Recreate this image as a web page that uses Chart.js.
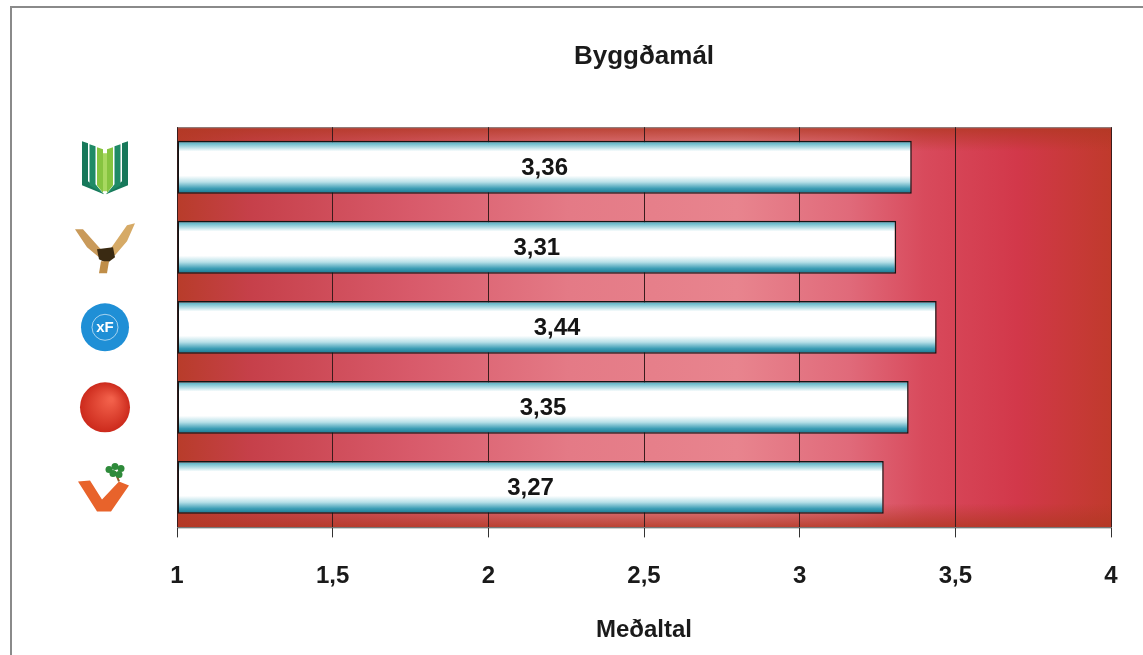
<!DOCTYPE html>
<html>
<head>
<meta charset="utf-8">
<script src="https://cdn.jsdelivr.net/npm/chart.js@4.4.1/dist/chart.umd.min.js"></script>
<style>
  html, body { margin: 0; padding: 0; background: #fff; }
  #wrap { width: 1143px; height: 655px; position: relative; }
</style>
</head>
<body>
<div id="wrap"><canvas id="graph"></canvas></div>
<script>
// flokkar (sýndir sem merki)
const categories = ['Framsóknarflokkurinn', 'Sjálfstæðisflokkurinn', 'Frjálslyndi flokkurinn', 'Samfylkingin', 'Vinstri græn']
const values = [3.36, 3.31, 3.44, 3.35, 3.27]
const tickLabels = ['1', '1,5', '2', '2,5', '3', '3,5', '4']

const FONT = 'Arial, "Liberation Sans", sans-serif'

// bakgrunnur teiknisvæðis
const plotBg = {
    id: 'plotBg',
    beforeDraw(chart) {
        const { ctx, chartArea: a } = chart
        ctx.save()
        const h = ctx.createLinearGradient(a.left, 0, a.right, 0)
        h.addColorStop(0, '#b83c2a')
        h.addColorStop(0.08, '#c6404a')
        h.addColorStop(0.25, '#d85a6a')
        h.addColorStop(0.42, '#e47a86')
        h.addColorStop(0.6, '#e8848e')
        h.addColorStop(0.72, '#e06a7a')
        h.addColorStop(0.8, '#d84a5c')
        h.addColorStop(0.9, '#d2384a')
        h.addColorStop(1, '#c03a2c')
        ctx.fillStyle = h
        ctx.fillRect(a.left, a.top, a.right - a.left, a.bottom - a.top)
        const v = ctx.createLinearGradient(0, a.top, 0, a.bottom)
        v.addColorStop(0, 'rgba(178,56,36,0.85)')
        v.addColorStop(0.06, 'rgba(178,56,36,0)')
        v.addColorStop(0.94, 'rgba(178,56,36,0)')
        v.addColorStop(1, 'rgba(178,56,36,0.85)')
        ctx.fillStyle = v
        ctx.fillRect(a.left, a.top, a.right - a.left, a.bottom - a.top)
        ctx.strokeStyle = '#888'
        ctx.lineWidth = 1
        ctx.strokeRect(a.left + 0.5, a.top + 0.5, a.right - a.left, a.bottom - a.top)
        ctx.restore()
    },
    afterDraw(chart) {
        // rammi utan um myndina
        const ctx = chart.ctx
        ctx.save()
        ctx.strokeStyle = '#8a8a8a'
        ctx.lineWidth = 2
        ctx.strokeRect(11, 7, 1200, 700)
        ctx.restore()
    }
}

// gildi inni í súlunum
const barLabels = {
    id: 'barLabels',
    afterDatasetsDraw(chart) {
        const ctx = chart.ctx
        const meta = chart.getDatasetMeta(0)
        ctx.save()
        ctx.font = 'bold 24px ' + FONT
        ctx.fillStyle = '#151515'
        ctx.textAlign = 'center'
        ctx.textBaseline = 'middle'
        meta.data.forEach(function(el, i) {
            const t = values[i].toFixed(2).replace('.', ',')
            ctx.fillText(t, (el.base + el.x) / 2, el.y + 1)
        })
        ctx.restore()
    }
}

function poly(ctx, color, pts) {
    ctx.beginPath()
    ctx.moveTo(pts[0][0], pts[0][1])
    for (let i = 1; i < pts.length; i++) ctx.lineTo(pts[i][0], pts[i][1])
    ctx.closePath()
    ctx.fillStyle = color
    ctx.fill()
}

function drawLogo(ctx, i, x, y) {
    ctx.save()
    ctx.translate(x, y)
    if (i === 0) {
        // grænt merki
        const cols = ['#17785a', '#1f8a66', '#86c440']
        for (const s of [-1, 1]) {
            for (let k = 0; k < 3; k++) {
                const xo = 23 - k * 7.5
                const top = -26 + k * 3
                poly(ctx, cols[k], [
                    [s * xo, top], [s * (xo - 6), top + 2],
                    [s * (xo - 6), 14 + k * 3], [s * 2, 26],
                    [s * 1, 27], [s * xo, 18]
                ])
            }
        }
        poly(ctx, '#a8d860', [[-2, -14], [2, -14], [2, 24], [-2, 24]])
    } else if (i === 1) {
        // örn
        poly(ctx, '#c99a5a', [[-30, -18], [-22, -18], [-6, 0], [0, 6], [-6, 10], [-18, 0]])
        poly(ctx, '#d6aa66', [[30, -24], [22, -22], [8, -2], [2, 6], [10, 8], [22, -6]])
        poly(ctx, '#3a2a12', [[-8, 2], [8, 0], [10, 10], [2, 16], [-6, 12]])
        poly(ctx, '#c08e48', [[-4, 14], [4, 14], [2, 26], [-6, 26]])
    } else if (i === 2) {
        // blár hringur
        ctx.beginPath()
        ctx.arc(0, 0, 24, 0, Math.PI * 2)
        ctx.fillStyle = '#1f8fd6'
        ctx.fill()
        ctx.beginPath()
        ctx.arc(0, 0, 13, 0, Math.PI * 2)
        ctx.strokeStyle = 'rgba(255,255,255,0.6)'
        ctx.lineWidth = 1
        ctx.stroke()
        ctx.fillStyle = '#fff'
        ctx.font = 'bold 15px ' + FONT
        ctx.textAlign = 'center'
        ctx.textBaseline = 'middle'
        ctx.fillText('xF', 0, 1)
    } else if (i === 3) {
        // rauður hringur
        const g = ctx.createRadialGradient(6, -8, 2, 0, 0, 25)
        g.addColorStop(0, '#f2604a')
        g.addColorStop(1, '#cc2a1c')
        ctx.beginPath()
        ctx.arc(0, 0, 25, 0, Math.PI * 2)
        ctx.fillStyle = g
        ctx.fill()
    } else {
        // appelsínugult V
        poly(ctx, '#e8632b', [[-27, -6], [-15, -7], [-3, 12], [14, -6], [24, -2], [6, 24], [-8, 24]])
        ctx.strokeStyle = '#8a5a2a'
        ctx.lineWidth = 2
        ctx.beginPath()
        ctx.moveTo(14, -6)
        ctx.lineTo(10, -16)
        ctx.stroke()
        ctx.fillStyle = '#2e8a3a'
        for (const p of [[4, -18], [10, -21], [16, -19], [8, -14], [14, -13]]) {
            ctx.beginPath()
            ctx.arc(p[0], p[1], 3.5, 0, Math.PI * 2)
            ctx.fill()
        }
    }
    ctx.restore()
}

const logos = {
    id: 'logos',
    afterDraw(chart) {
        const y = chart.scales.y
        categories.forEach(function(c, i) {
            drawLogo(chart.ctx, i, 105, y.getPixelForValue(i))
        })
    }
}

function barFill(c) {
    const chart = c.chart
    const a = chart.chartArea
    if (!a || c.type !== 'data') return '#ffffff'
    const yc = chart.scales.y.getPixelForValue(c.dataIndex)
    const half = (a.bottom - a.top) / categories.length * 0.66 / 2
    const g = chart.ctx.createLinearGradient(0, yc - half, 0, yc + half)
    g.addColorStop(0, '#2c8ea6')
    g.addColorStop(0.05, '#6cbccc')
    g.addColorStop(0.2, '#ffffff')
    g.addColorStop(0.66, '#ffffff')
    g.addColorStop(0.78, '#b8e0e8')
    g.addColorStop(0.9, '#3e9eb6')
    g.addColorStop(1, '#16728a')
    return g
}

document.addEventListener('DOMContentLoaded', function() {
    const context = document.querySelector('#graph').getContext('2d')
    new Chart(context, {
        type: 'bar',
        data: {
            labels: categories,
            datasets: [{
                data: values,
                base: 1,
                backgroundColor: barFill,
                borderColor: '#151515',
                borderWidth: 1.5,
                borderSkipped: false,
                categoryPercentage: 0.66,
                barPercentage: 1
            }]
        },
        options: {
            indexAxis: 'y',
            responsive: true,
            maintainAspectRatio: false,
            animation: false,
            layout: {
                padding: { left: 177, right: 32, top: 0, bottom: 0 }
            },
            plugins: {
                legend: { display: false },
                tooltip: { enabled: false },
                title: {
                    display: true,
                    text: 'Byggðamál',
                    color: '#1a1a1a',
                    font: { family: FONT, size: 26, weight: 'bold' },
                    padding: { top: 41, bottom: 55 }
                }
            },
            scales: {
                x: {
                    min: 1,
                    max: 4,
                    ticks: {
                        stepSize: 0.5,
                        color: '#1a1a1a',
                        padding: 25,
                        font: { family: FONT, size: 24, weight: 'bold' },
                        callback: function(v, i) { return tickLabels[i] }
                    },
                    grid: {
                        color: '#3a1c1c',
                        lineWidth: 1,
                        tickLength: 10,
                        tickColor: '#333'
                    },
                    border: { color: '#777', width: 1 },
                    title: {
                        display: true,
                        text: 'Meðaltal',
                        color: '#1a1a1a',
                        font: { family: FONT, size: 24, weight: 'bold' },
                        padding: { top: 0, bottom: 10 }
                    }
                },
                y: {
                    display: false
                }
            }
        },
        plugins: [plotBg, barLabels, logos]
    })
})
</script>
</body>
</html>
